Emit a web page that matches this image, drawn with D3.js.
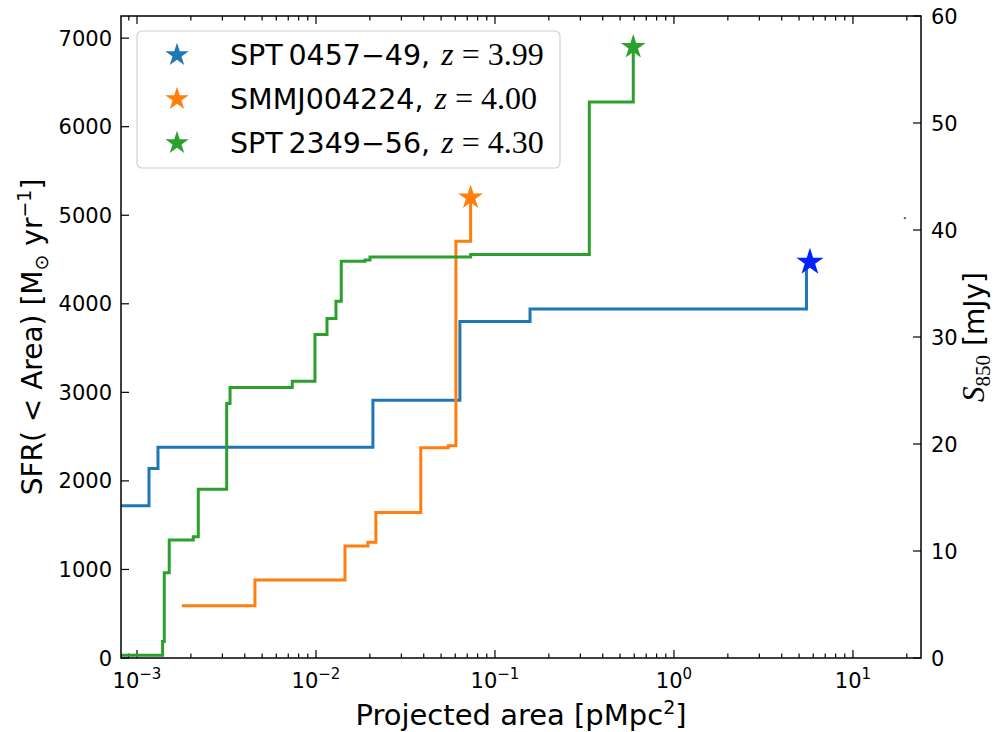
<!DOCTYPE html>
<html>
<head>
<meta charset="utf-8">
<script src="https://cdn.jsdelivr.net/npm/d3@7"></script>
<style>
  body { margin: 0; background: #fff; }
  text { font-family: "DejaVu Sans", sans-serif; fill: #000; }
</style>
</head>
<body>
<script>
// series: cumulative SFR inside projected area (step plots)
const names = ["SPT\u20090457\u221249, ", "SMMJ004224, ", "SPT\u20092349\u221256, "];
const redshifts = ["3.99", "4.00", "4.30"];
const colors = ["#1f77b4", "#ff7f0e", "#2ca02c"];

const blueArea = [7e-4, 1.167e-3, 1.31e-3, 0.0208, 0.0637, 0.157, 5.5];
const blueSfr  = [1720, 2140, 2380, 2910, 3800, 3940, 4400];

const orangeArea = [1.78e-3, 4.56e-3, 0.01452, 0.0195, 0.0216, 0.0385, 0.0548, 0.0605, 0.0731];
const orangeSfr  = [590, 880, 1264, 1306, 1644, 2374, 2396, 4706, 5200];

const greenArea = [7e-4, 1.39e-3, 1.42e-3, 1.514e-3, 2.063e-3, 2.20e-3, 3.17e-3, 3.31e-3, 7.37e-3,
                   9.87e-3, 0.01152, 0.01293, 0.01384, 0.01878, 0.02003, 0.0731, 0.3365, 0.5925];
const greenSfr  = [30, 185, 963, 1332, 1369, 1907, 2875, 3055, 3126,
                   3653, 3834, 4029, 4481, 4495, 4529, 4556, 6279, 6900];

// end-point stars (total)
const starArea = [5.75, 0.0731, 0.5925];
const starSfr  = [4470, 5200, 6900];
const starColors = ["#0022ff", "#ff7f0e", "#2ca02c"];

// stray point near the right edge
const strayArea = [19.5];
const straySfr  = [4968];

const xTicks = [1e-3, 1e-2, 1e-1, 1, 10];
const xTickExp = ["\u22123", "\u22122", "\u22121", "0", "1"];
const yTicks = [0, 1000, 2000, 3000, 4000, 5000, 6000, 7000];
const y2Ticks = [0, 10, 20, 30, 40, 50, 60];

const svgSize = {width: 995, height: 732};
const margin = {top: 16, right: 74, bottom: 74, left: 121};
const width = svgSize.width - margin.left - margin.right,
      height = svgSize.height - margin.top - margin.bottom;

const svg = d3.select("body").append("svg")
    .attr("width", svgSize.width)
    .attr("height", svgSize.height);
const g = svg.append("g").attr("transform", `translate(${margin.left},${margin.top})`);

const x = d3.scaleLog().domain([8.14e-4, 24]).range([0, width]);
const y = d3.scaleLinear().domain([0, 7250]).range([height, 0]);
const y2 = d3.scaleLinear().domain([0, 60]).range([height, 0]);

g.append("clipPath").attr("id", "clip")
  .append("rect").attr("width", width).attr("height", height);

// minor ticks for log axis
let minor = [];
for (let e = -4; e <= 1; e++) {
  for (let m = 2; m <= 9; m++) {
    const v = m * Math.pow(10, e);
    if (v > x.domain()[0] && v < x.domain()[1]) minor.push(v);
  }
}

function tickLines(sel, vals, len, side) {
  sel.selectAll(null).data(vals).enter().append("line")
    .attr("x1", d => x(d)).attr("x2", d => x(d))
    .attr("y1", side === "bottom" ? height : 0)
    .attr("y2", side === "bottom" ? height - len : len)
    .attr("stroke", "#000").attr("stroke-width", 1.2);
}
const ticks = g.append("g");
tickLines(ticks, xTicks, 8, "bottom");
tickLines(ticks, minor, 4.5, "bottom");
tickLines(ticks, xTicks, 8, "top");
tickLines(ticks, minor, 4.5, "top");

ticks.selectAll(null).data(yTicks).enter().append("line")
  .attr("x1", 0).attr("x2", 8).attr("y1", d => y(d)).attr("y2", d => y(d))
  .attr("stroke", "#000").attr("stroke-width", 1.2);
ticks.selectAll(null).data(y2Ticks).enter().append("line")
  .attr("x1", width).attr("x2", width - 8).attr("y1", d => y2(d)).attr("y2", d => y2(d))
  .attr("stroke", "#000").attr("stroke-width", 1.2);

// tick labels
const xl = g.append("g").selectAll(null).data(xTicks).enter().append("text")
  .attr("x", d => x(d)).attr("y", height + 30)
  .attr("text-anchor", "middle").style("font-size", "21px");
xl.append("tspan").text("10");
xl.append("tspan").attr("dy", -9).style("font-size", "15px").text((d, i) => xTickExp[i]);

g.append("g").selectAll(null).data(yTicks).enter().append("text")
  .attr("x", -9).attr("y", d => y(d)).attr("dy", "0.36em")
  .attr("text-anchor", "end").style("font-size", "21px").text(d => d);

g.append("g").selectAll(null).data(y2Ticks).enter().append("text")
  .attr("x", width + 10).attr("y", d => y2(d)).attr("dy", "0.36em")
  .attr("text-anchor", "start").style("font-size", "21px").text(d => d);

// step lines
const line = d3.line().curve(d3.curveStepAfter).x(d => x(d[0])).y(d => y(d[1]));
const series = [
  d3.zip(blueArea, blueSfr),
  d3.zip(orangeArea, orangeSfr),
  d3.zip(greenArea, greenSfr)
];
g.append("g").attr("clip-path", "url(#clip)")
  .selectAll("path").data(series).enter().append("path")
  .attr("d", line)
  .attr("fill", "none")
  .attr("stroke", (d, i) => colors[i])
  .attr("stroke-width", 3);

// stars
const star = d3.symbol().type(d3.symbolStar);
g.append("g").selectAll("path").data(d3.zip(starArea, starSfr)).enter().append("path")
  .attr("transform", d => `translate(${x(d[0])},${y(d[1])})`)
  .attr("d", (d, i) => star.size(i === 0 ? 230 : 190)())
  .attr("fill", (d, i) => starColors[i]);

g.append("g").selectAll("circle").data(d3.zip(strayArea, straySfr)).enter().append("circle")
  .attr("cx", d => x(d[0])).attr("cy", d => y(d[1])).attr("r", 1.2)
  .attr("fill", "#1f77b4");

// frame
g.append("rect").attr("width", width).attr("height", height)
  .attr("fill", "none").attr("stroke", "#000").attr("stroke-width", 1.5);

// legend
const leg = g.append("g").attr("transform", "translate(16,15)");
leg.append("rect").attr("width", 423).attr("height", 137).attr("rx", 5)
  .attr("fill", "#fff").attr("fill-opacity", 0.8)
  .attr("stroke", "#d0d0d0").attr("stroke-width", 1.2);
names.forEach((n, i) => {
  const cy = 24 + i * 44;
  leg.append("path").attr("transform", `translate(40,${cy})`)
    .attr("d", star.size(170)()).attr("fill", colors[i]);
  const t = leg.append("text").attr("x", 93).attr("y", cy).attr("dy", "0.36em")
    .style("font-size", "28.5px");
  t.append("tspan").text(n);
  t.append("tspan").attr("dx", 2).style("font-family", "'Liberation Serif', serif").style("font-style", "italic")
    .style("font-size", "32px").text("z");
  t.append("tspan").attr("dx", 8).style("font-family", "'Liberation Serif', serif")
    .style("font-size", "32px").text("=");
  t.append("tspan").attr("dx", 8).style("font-family", "'Liberation Serif', serif")
    .style("font-size", "32px").text(redshifts[i]);
});

// axis labels
const xlab = svg.append("text").attr("x", margin.left + width / 2).attr("y", 725)
  .attr("text-anchor", "middle").style("font-size", "29px");
xlab.append("tspan").text("Projected area [pMpc");
xlab.append("tspan").attr("dy", -11).style("font-size", "19px").text("2");
xlab.append("tspan").attr("dy", 11).text("]");

const ylab = svg.append("text")
  .attr("transform", `translate(42,${margin.top + height / 2}) rotate(-90)`)
  .attr("text-anchor", "middle").style("font-size", "28px");
ylab.append("tspan").text("SFR(");
ylab.append("tspan").text(" < ");
ylab.append("tspan").text("Area) [M");
ylab.append("tspan").attr("dy", 6).style("font-size", "19px").text("\u2299");
ylab.append("tspan").attr("dy", -6).text(" yr");
ylab.append("tspan").attr("dy", -11).style("font-size", "19px").text("\u22121");
ylab.append("tspan").attr("dy", 11).text("]");

const y2lab = svg.append("text")
  .attr("transform", `translate(984,${margin.top + height / 2}) rotate(-90)`)
  .attr("text-anchor", "middle").style("font-size", "28px");
y2lab.append("tspan").style("font-family", "'Liberation Serif', serif").style("font-style", "italic")
  .style("font-size", "31px").text("S");
y2lab.append("tspan").attr("dy", 6).style("font-family", "'Liberation Serif', serif")
  .style("font-size", "21px").text("850");
y2lab.append("tspan").attr("dy", -6).text(" [mJy]");
</script>
</body>
</html>
